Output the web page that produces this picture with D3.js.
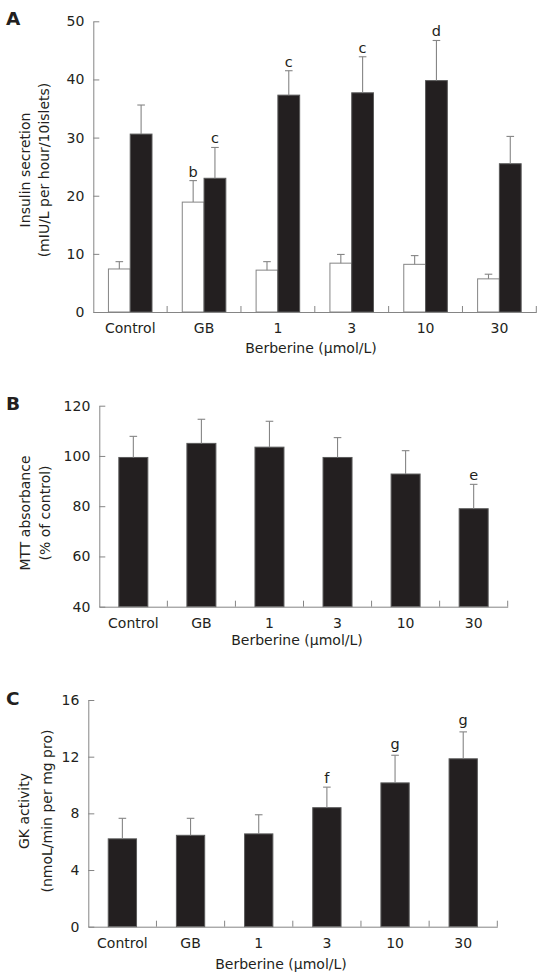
<!DOCTYPE html>
<html>
<head>
<meta charset="utf-8">
<script src="https://cdn.jsdelivr.net/npm/d3@7"></script>
<style>
  html, body { margin: 0; padding: 0; background: #fff; }
  svg { display: block; }
  text { font-family: "DejaVu Sans", Verdana, sans-serif; fill: #231f20; }
</style>
</head>
<body>
<svg id="chart" width="549" height="978"></svg>
<script>
// ---------------- data ----------------
const categories = ["Control", "GB", "1", "3", "10", "30"];
const xTitle = "Berberine (\u03bcmol/L)";

// Panel A: insulin secretion (white = basal, black = stimulated)
const insulinBasal     = [7.4, 18.9, 7.2, 8.4, 8.2, 5.7];
const insulinBasalErr  = [1.26, 3.7, 1.46, 1.5, 1.5, 0.8];
const insulinBasalSig  = ["", "b", "", "", "", ""];
const insulinStim      = [30.6, 23.0, 37.3, 37.7, 39.8, 25.5];
const insulinStimErr   = [5.0, 5.3, 4.2, 6.2, 6.9, 4.7];
const insulinStimSig   = ["", "c", "c", "c", "d", ""];
const insulinTicks     = [0, 10, 20, 30, 40, 50];

// Panel B: MTT absorbance
const mttValues = [99.4, 105.0, 103.5, 99.4, 92.8, 79.0];
const mttErr    = [8.4, 9.6, 10.3, 7.9, 9.3, 9.7];
const mttSig    = ["", "", "", "", "", "e"];
const mttTicks  = [40, 60, 80, 100, 120];

// Panel C: GK activity
const gkValues = [6.2, 6.45, 6.55, 8.4, 10.15, 11.85];
const gkErr    = [1.45, 1.2, 1.35, 1.45, 1.95, 1.9];
const gkSig    = ["", "", "", "f", "g", "g"];
const gkTicks  = [0, 4, 8, 12, 16];

// ---------------- style / layout ----------------
const AXIS = "#858585";
const DARK = "#231f20";
const ERR = "#858585";

const svg = d3.select("#chart");

function panel(cfg) {
  const g = svg.append("g");
  const x = d3.scaleBand().domain(categories).range([cfg.x0, cfg.x1])
    .paddingInner(cfg.pad).paddingOuter(cfg.pad / 2);
  const y = d3.scaleLinear().domain(cfg.domain).range([cfg.yBot, cfg.yTop]);

  // series sub-scale
  const sub = d3.scaleBand().domain(d3.range(cfg.series.length)).range([0, x.bandwidth()]);

  cfg.series.forEach((s, si) => {
    const sg = g.append("g");
    const data = categories.map((c, i) => ({c, v: s.values[i], e: s.err[i], sig: s.sig[i]}));
    sg.selectAll("rect").data(data).join("rect")
      .attr("x", d => x(d.c) + sub(si))
      .attr("width", sub.bandwidth())
      .attr("y", d => y(d.v))
      .attr("height", d => y(cfg.domain[0]) - y(d.v))
      .attr("fill", s.fill)
      .attr("stroke", s.stroke)
      .attr("stroke-width", 1);
    const cx = d => x(d.c) + sub(si) + sub.bandwidth() / 2;
    sg.selectAll("line.err").data(data).join("line").attr("class", "err")
      .attr("x1", cx).attr("x2", cx)
      .attr("y1", d => y(d.v)).attr("y2", d => y(d.v + d.e))
      .attr("stroke", ERR).attr("stroke-width", 1.1);
    sg.selectAll("line.cap").data(data).join("line").attr("class", "cap")
      .attr("x1", d => cx(d) - 3.8).attr("x2", d => cx(d) + 3.8)
      .attr("y1", d => y(d.v + d.e)).attr("y2", d => y(d.v + d.e))
      .attr("stroke", ERR).attr("stroke-width", 1.1);
    sg.selectAll("text.sig").data(data.filter(d => d.sig)).join("text").attr("class", "sig")
      .attr("x", cx)
      .attr("y", d => y(d.v + d.e) - (/[gpqy]/.test(d.sig) ? 6.5 : 4))
      .attr("text-anchor", "middle")
      .attr("font-size", 14.5)
      .text(d => d.sig);
  });

  // y axis
  const ya = g.append("g").attr("transform", `translate(${cfg.x0},0)`)
    .call(d3.axisLeft(y).tickValues(cfg.ticks).tickSizeInner(-6).tickSizeOuter(0).tickPadding(9));
  ya.selectAll("text").attr("font-size", 14).attr("fill", DARK)
    .style("font-family", '"DejaVu Sans", sans-serif');
  ya.selectAll("line, path").attr("stroke", AXIS);

  // x axis (labels + inward boundary ticks)
  const xa = g.append("g").attr("transform", `translate(0,${cfg.yBot})`)
    .call(d3.axisBottom(x).tickSize(0).tickPadding(11.5));
  xa.selectAll("text").attr("font-size", 14).attr("fill", DARK)
    .style("font-family", '"DejaVu Sans", sans-serif');
  xa.select("path").attr("stroke", AXIS);
  const bounds = d3.range(1, categories.length + 1).map(i => cfg.x0 + i * x.step());
  g.selectAll(null).data(bounds).join("line")
    .attr("x1", d => d).attr("x2", d => d)
    .attr("y1", cfg.yBot).attr("y2", cfg.yBot - 6)
    .attr("stroke", AXIS);

  // x title
  g.append("text").attr("x", cfg.titleX).attr("y", cfg.titleY)
    .attr("text-anchor", "middle").attr("font-size", 14).text(xTitle);

  // y title (two lines)
  cfg.yTitle.forEach((t, i) => {
    g.append("text")
      .attr("transform", `translate(${cfg.yTitleX[i]},${cfg.yTitleY}) rotate(-90)`)
      .attr("text-anchor", "middle").attr("font-size", 14).text(t);
  });

  // panel letter
  g.append("text").attr("x", 6).attr("y", cfg.letterY)
    .attr("font-size", 18.5).attr("font-weight", "bold").text(cfg.letter);
}

panel({
  letter: "A", letterY: 25,
  x0: 93.3, x1: 536.3, yTop: 21.3, yBot: 312, domain: [0, 50], ticks: insulinTicks, pad: 0.41,
  series: [
    {values: insulinBasal, err: insulinBasalErr, sig: insulinBasalSig, fill: "#fff", stroke: "#858585"},
    {values: insulinStim, err: insulinStimErr, sig: insulinStimSig, fill: DARK, stroke: "#5a5a5a"}
  ],
  titleX: 311, titleY: 353,
  yTitle: ["Insulin secretion", "(mIU/L per hour/10islets)"], yTitleX: [30, 48.5], yTitleY: 170
});

panel({
  letter: "B", letterY: 410,
  x0: 99.3, x1: 507.7, yTop: 405.7, yBot: 606.7, domain: [40, 120], ticks: mttTicks, pad: 0.574,
  series: [
    {values: mttValues, err: mttErr, sig: mttSig, fill: DARK, stroke: "#5a5a5a"}
  ],
  titleX: 297, titleY: 645,
  yTitle: ["MTT absorbance", "(% of control)"], yTitleX: [30, 50], yTitleY: 513
});

panel({
  letter: "C", letterY: 705,
  x0: 88.3, x1: 497.3, yTop: 700, yBot: 926.7, domain: [0, 16], ticks: gkTicks, pad: 0.585,
  series: [
    {values: gkValues, err: gkErr, sig: gkSig, fill: DARK, stroke: "#5a5a5a"}
  ],
  titleX: 281, titleY: 968.5,
  yTitle: ["GK activity", "(nmoL/min per mg pro)"], yTitleX: [29, 52], yTitleY: 811
});
</script>
</body>
</html>
